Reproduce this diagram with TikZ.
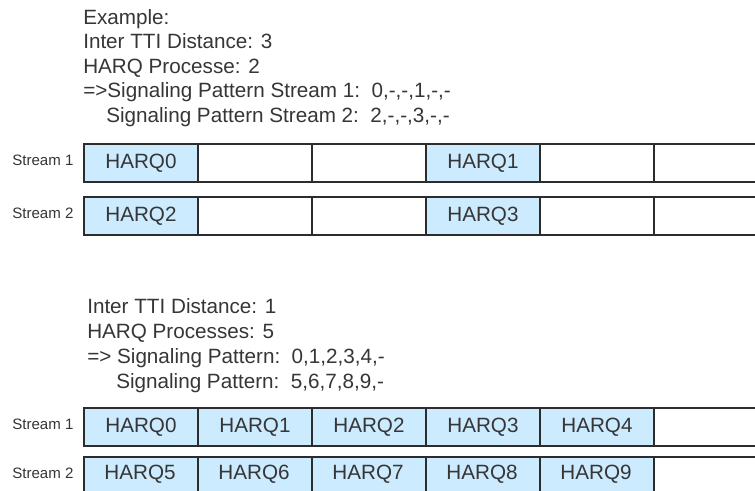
\documentclass[tikz,border=0pt]{standalone}
\usepackage{fontspec}
\setmainfont{Liberation Sans}
\definecolor{txt}{HTML}{363636}
\definecolor{cellfill}{HTML}{CCEBFF}
\definecolor{cellline}{HTML}{2C2C2C}
\tikzset{
  cellbox/.style={draw=cellline, line width=1.4pt, fill=white, minimum width=85.5pt,
    minimum height=28.5pt, anchor=north west, inner sep=0pt,
    font=\fontsize{15.5}{18}\selectfont, text=txt},
  harqbox/.style={cellbox, fill=cellfill},
  textline/.style={anchor=base west, inner sep=0pt, font=\fontsize{15.5}{18}\selectfont, text=txt},
  streamlbl/.style={anchor=base west, inner sep=0pt, font=\fontsize{11.3}{13}\selectfont, text=txt},
  lastrow/.style={minimum height=33pt}
}
\begin{document}
\begin{tikzpicture}[x=0.75pt,y=-0.75pt]
\useasboundingbox (0,0) rectangle (755,491);
\clip (0,0) rectangle (755,491);
\fill[white] (0,0) rectangle (755,491);
% first example text
\node[textline] (e1) at (83,25) {Example:};
\node[textline] (e2) at (83,49) {Inter TTI Distance: 3};
\node[textline] (e3) at (83,74) {HARQ Processe: 2};
\node[textline] (e4) at (83,98) {=>Signaling Pattern Stream 1:\ \ 0,-,-,1,-,-};
\node[textline] (e5) at (106,123) {Signaling Pattern Stream 2:\ \ 2,-,-,3,-,-};
% stream labels
\node[streamlbl] (ls1) at (12,166) {Stream 1};
\node[streamlbl] (ls2) at (12,219) {Stream 2};
% top rows
\foreach \i in {0,...,5} {
  \node[cellbox] (ta\i) at (83+114*\i,143) {};
  \node[cellbox] (tb\i) at (83+114*\i,196) {};
}
\node[harqbox] (ta0h) at (83,143) {HARQ0};
\node[harqbox] (ta3h) at (425,143) {HARQ1};
\node[harqbox] (tb0h) at (83,196) {HARQ2};
\node[harqbox] (tb3h) at (425,196) {HARQ3};
% second example text
\node[textline] (f1) at (87,313) {Inter TTI Distance: 1};
\node[textline] (f2) at (87,338) {HARQ Processes: 5};
\node[textline] (f3) at (87,363) {=> Signaling Pattern:\ \ 0,1,2,3,4,-};
\node[textline] (f4) at (116,388) {Signaling Pattern:\ \ 5,6,7,8,9,-};
\node[streamlbl] (ls3) at (12,429) {Stream 1};
\node[streamlbl] (ls4) at (12,478) {Stream 2};
% bottom rows
\node[cellbox] (ba5) at (653,407) {};
\node[cellbox, lastrow] (bb5) at (653,456) {};
\foreach \i/\a/\b in {0/0/5,1/1/6,2/2/7,3/3/8,4/4/9} {
  \node[harqbox] (ba\i) at (83+114*\i,407) {HARQ\a};
  \node[harqbox, lastrow, text height=11pt, text depth=0pt] (bb\i) at (83+114*\i,456) {};
  \node[anchor=center, inner sep=0pt, font=\fontsize{15.5}{18}\selectfont, text=txt] (bt\i) at (140+114*\i,474.5) {HARQ\b};
}
\end{tikzpicture}
\end{document}
